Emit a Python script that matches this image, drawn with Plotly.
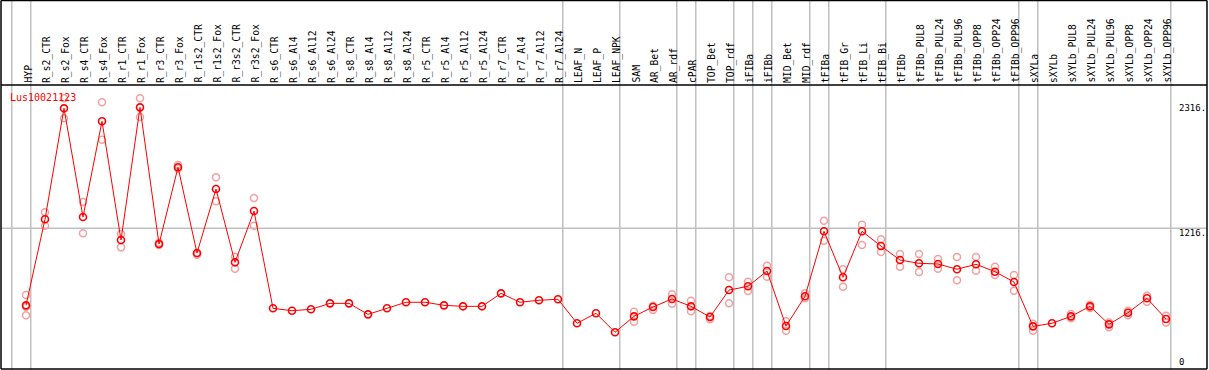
import plotly.graph_objects as go

# ---------------- data ----------------
categories = ["HYP", "R_s2_CTR", "R_s2_Fox", "R_s4_CTR", "R_s4_Fox", "R_r1_CTR", "R_r1_Fox",
              "R_r3_CTR", "R_r3_Fox", "R_r1s2_CTR", "R_r1s2_Fox", "R_r3s2_CTR", "R_r3s2_Fox",
              "R_s6_CTR", "R_s6_Al4", "R_s6_Al12", "R_s6_Al24", "R_s8_CTR", "R_s8_Al4",
              "R_s8_Al12", "R_s8_Al24", "R_r5_CTR", "R_r5_Al4", "R_r5_Al12", "R_r5_Al24",
              "R_r7_CTR", "R_r7_Al4", "R_r7_Al12", "R_r7_Al24", "LEAF_N", "LEAF_P", "LEAF_NPK",
              "SAM", "AR_Bet", "AR_rdf", "cPAR", "TOP_Bet", "TOP_rdf", "iFIBa", "iFIBb",
              "MID_Bet", "MID_rdf", "tFIBa", "tFIB_Gr", "tFIB_Li", "tFIB_Bi", "tFIBb",
              "tFIBb_PUL8", "tFIBb_PUL24", "tFIBb_PUL96", "tFIBb_OPP8", "tFIBb_OPP24",
              "tFIBb_OPP96", "sXYLa", "sXYLb", "sXYLb_PUL8", "sXYLb_PUL24", "sXYLb_PUL96",
              "sXYLb_OPP8", "sXYLb_OPP24", "sXYLb_OPP96"]

mean_values = [516, 1298, 2307, 1319, 2189, 1110, 2316, 1073, 1771, 992, 1573, 907, 1373,
               489, 467, 480, 534, 534, 434, 489, 544, 544, 516, 507, 507, 625, 544, 562, 571,
               353, 444, 271, 416, 501, 574, 507, 410, 655, 689, 828, 328, 598, 1189, 771,
               1189, 1055, 928, 898, 892, 844, 889, 822, 728, 325, 353, 416, 507, 343, 449,
               580, 392]

rep_a = [610, 1362, 2398, 1455, 2362, 1164, 2398, 1085, 1792, 985, 1680, 958, 1492,
         None, None, None, None, None, None, None, None, None, None, None, None, None, None,
         None, None, None, None, None, 458, 474, 616, 558, 389, 771, 731, 876, 371, 626,
         1285, 844, 1249, 1116, 983, 983, 937, 955, 955, 867, 792, 349, None, 437, 522,
         361, 467, 604, 422]

rep_b = [425, 1240, 2216, 1171, 2022, 1043, 2228, 1065, 1758, 975, 1462, 849, 1240,
         None, None, None, None, None, None, None, None, None, None, None, None, None, None,
         None, None, None, None, None, 367, 512, 531, 462, 420, 534, 646, 776, 285, 580,
         1104, 685, 1064, 1001, 867, 819, 849, 744, 831, 792, 649, 285, None, 398, 492,
         316, 425, 549, 361]

rep_c = [503] + [None] * 60

gene_name = "Lus10021123"
axis_labels = ["2316.", "1216.", "0"]
axis_label_values = [2316, 1216, 0]
grid_value = 1216
# group separators (placed just after these category indices)
separator_after = [-1, 0, 28, 31, 34, 35, 37, 38, 39, 41, 42, 45, 52, 53, 60]

# ---------------- pixel mapping ----------------
W, H = 1209, 370
X0_PX, DX_PX = 26.0, 19.0
Y0_PX = 362.1
UNITS_PER_PX = 1100.0 / 121.0


def px2x(px):
    return (px - X0_PX) / DX_PX


def px2y(py):
    return (Y0_PX - py) * UNITS_PER_PX


def val2px(v):
    return Y0_PX - v / UNITS_PER_PX


xs = list(range(len(categories)))
mono = "DejaVu Sans Mono"
pink = "#f2a0a0"
red = "#ff0000"

fig = go.Figure()

for reps in (rep_a, rep_b, rep_c):
    fig.add_trace(go.Scatter(
        x=xs, y=reps, mode="markers",
        marker=dict(symbol="circle-open", size=7, color=pink, line=dict(width=1.5, color=pink)),
        showlegend=False, hoverinfo="skip"))

fig.add_trace(go.Scatter(
    x=xs, y=mean_values, mode="lines+markers",
    line=dict(color=red, width=1),
    marker=dict(symbol="circle-open", size=7, color=red, line=dict(width=1.6, color=red)),
    showlegend=False, text=categories))

shapes = []
grey = "#c0c0c0"
for k in separator_after:
    xv = k + 0.25
    shapes.append(dict(type="line", xref="x", yref="y", x0=xv, x1=xv,
                       y0=px2y(H), y1=px2y(0), line=dict(color=grey, width=1.5), layer="below"))
shapes.append(dict(type="line", xref="x", yref="y", x0=px2x(1), x1=px2x(1207),
                   y0=grid_value, y1=grid_value, line=dict(color=grey, width=1.5), layer="below"))
black = "#000000"
frame = [(1, 0.5, 1207, 0.5), (1207, 0.5, 1207, 369), (1, 369, 1207, 369), (1, 0.5, 1, 369),
         (1, 85, 1207, 85)]
for (xa, ya, xb, yb) in frame:
    shapes.append(dict(type="line", xref="x", yref="y", x0=px2x(xa), x1=px2x(xb),
                       y0=px2y(ya), y1=px2y(yb), line=dict(color=black, width=1.5)))

annotations = []
for i, c in enumerate(categories):
    annotations.append(dict(x=i + 0.08, y=px2y(84), xref="x", yref="y", text=c, showarrow=False,
                            textangle=-90, xanchor="center", yanchor="bottom", borderpad=0,
                            font=dict(family=mono, size=9.7, color="black")))
annotations.append(dict(x=px2x(9), y=px2y(97), xref="x", yref="y", text=gene_name,
                        showarrow=False, xanchor="left", yanchor="middle", borderpad=0,
                        font=dict(family=mono, size=10, color=red)))
label_offsets = [0.4, 4.4, -0.4]
for lab, val, off in zip(axis_labels, axis_label_values, label_offsets):
    annotations.append(dict(x=px2x(1178), y=px2y(val2px(val) + off),
                            xref="x", yref="y", text=lab, showarrow=False,
                            xanchor="left", yanchor="middle", borderpad=0,
                            font=dict(family=mono, size=9, color="black")))

fig.update_layout(
    width=W, height=H,
    margin=dict(l=0, r=0, t=0, b=0, pad=0),
    paper_bgcolor="white", plot_bgcolor="white",
    xaxis=dict(range=[px2x(0), px2x(W)], visible=False, fixedrange=True),
    yaxis=dict(range=[px2y(H), px2y(0)], visible=False, fixedrange=True),
    shapes=shapes, annotations=annotations, showlegend=False,
)

fig.write_html("out.html", config={"displayModeBar": False},
               post_script="document.body.style.margin='0';document.body.style.padding='0';"
                           "document.body.style.overflow='hidden';")
